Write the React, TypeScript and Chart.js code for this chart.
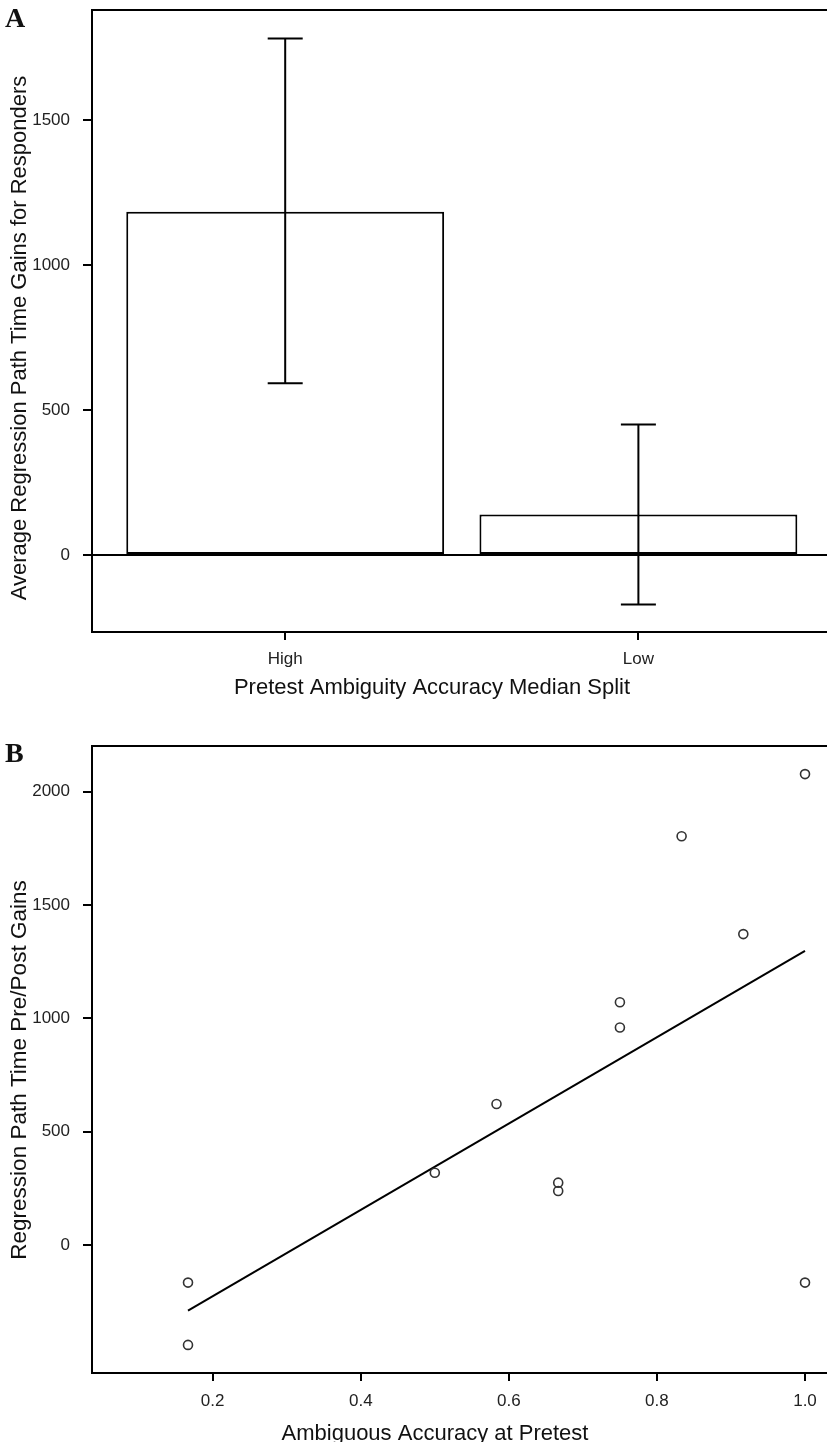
import React, { useEffect, useRef } from "react";
import { Chart, registerables } from "chart.js";

Chart.register(...registerables);

// ---------- Panel A data ----------
const categories = ["High", "Low"];
const meanGains = [1184, 140];
const errLower = [592, -170];
const errUpper = [1781, 450];
const yTicksA = [0, 500, 1000, 1500];

// ---------- Panel B data ----------
const accuracyX = [1 / 6, 1 / 6, 0.5, 7 / 12, 2 / 3, 2 / 3, 0.75, 0.75, 5 / 6, 11 / 12, 1, 1];
const gainsY = [-166, -441, 319, 622, 275, 238, 1071, 960, 1804, 1372, 2078, -166];
const fitX = [1 / 6, 1];
const fitY = [-290, 1298];
const xTicksB = [0.2, 0.4, 0.6, 0.8, 1.0];
const yTicksB = [0, 500, 1000, 1500, 2000];

const SANS = "'Liberation Sans', Arial, Helvetica, sans-serif";
const SERIF = "'Liberation Serif', 'Times New Roman', serif";
const TICK_FONT = { family: SANS, size: 17 };
const TEXT_COLOR = "#222";

type Label = { text: string; x: number; y: number; rotate?: boolean; font: string };

function makeTextPlugin(id: string, labels: Label[], topLine: boolean) {
  return {
    id,
    afterDraw(chart: any) {
      const { ctx, chartArea } = chart;
      ctx.save();
      if (topLine) {
        ctx.strokeStyle = "#000";
        ctx.lineWidth = 2;
        ctx.beginPath();
        ctx.moveTo(chartArea.left - 1, chartArea.top);
        ctx.lineTo(chartArea.right + 2, chartArea.top);
        ctx.stroke();
      }
      ctx.fillStyle = "#111";
      for (const l of labels) {
        ctx.save();
        ctx.font = l.font;
        ctx.textBaseline = "alphabetic";
        if (l.rotate) {
          ctx.translate(l.x, l.y);
          ctx.rotate(-Math.PI / 2);
          ctx.textAlign = "center";
          ctx.fillText(l.text, 0, 0);
        } else {
          ctx.textAlign = l.font.includes("bold") ? "left" : "center";
          ctx.fillText(l.text, l.x, l.y);
        }
        ctx.restore();
      }
      ctx.restore();
    },
  };
}

const errorBarPlugin = {
  id: "errorBars",
  afterDatasetsDraw(chart: any) {
    const { ctx, scales, chartArea } = chart;
    const xs = scales.x;
    const ys = scales.y;
    ctx.save();
    ctx.strokeStyle = "#000";
    ctx.lineWidth = 2;
    // zero reference line
    const y0 = ys.getPixelForValue(0);
    ctx.beginPath();
    ctx.moveTo(chartArea.left, y0);
    ctx.lineTo(chartArea.right + 2, y0);
    ctx.stroke();
    const cap = 17.5;
    categories.forEach((_, i) => {
      const x = xs.getPixelForValue(i + 1);
      const yl = ys.getPixelForValue(errLower[i]);
      const yh = ys.getPixelForValue(errUpper[i]);
      ctx.beginPath();
      ctx.moveTo(x, yl);
      ctx.lineTo(x, yh);
      ctx.moveTo(x - cap, yl);
      ctx.lineTo(x + cap, yl);
      ctx.moveTo(x - cap, yh);
      ctx.lineTo(x + cap, yh);
      ctx.stroke();
    });
    ctx.restore();
  },
};

function zeroPad(ax: any) {
  ax.paddingTop = 0;
  ax.paddingBottom = 0;
  ax.paddingLeft = 0;
  ax.paddingRight = 0;
}

function axisCommon(tickLength: number, padding: number) {
  return {
    offset: false,
    grid: {
      offset: false,
      drawOnChartArea: false,
      drawTicks: true,
      tickLength,
      color: "#000",
      lineWidth: 2,
    },
    border: { display: true, color: "#000", width: 2 },
    ticks: {
      font: TICK_FONT,
      color: TEXT_COLOR,
      padding,
      autoSkip: false,
      maxRotation: 0,
      callback: (v: any) => String(v),
    },
  };
}

function PanelA() {
  const ref = useRef<HTMLCanvasElement>(null);
  useEffect(() => {
    if (!ref.current) return;
    const xc = axisCommon(8, 9);
    const yc = axisCommon(9, 13);
    const chart = new Chart(ref.current, {
      type: "bar",
      data: {
        datasets: [
          {
            data: categories.map((c, i) => ({ x: i + 1, y: meanGains[i] })),
            backgroundColor: "#fff",
            borderColor: "#000",
            borderWidth: 2,
            borderSkipped: false,
            barPercentage: 0.9,
            categoryPercentage: 1,
          } as any,
        ],
      },
      options: {
        animation: false,
        responsive: false,
        maintainAspectRatio: false,
        layout: { autoPadding: false, padding: { top: 10, left: 0, right: 0, bottom: 0 } },
        plugins: { legend: { display: false }, tooltip: { enabled: false } },
        scales: {
          x: {
            type: "linear",
            min: 0.453,
            max: 2.534,
            ...xc,
            ticks: { ...xc.ticks, callback: (v: any) => categories[Math.round(v) - 1] ?? "" },
            afterBuildTicks: (ax: any) => {
              ax.ticks = categories.map((_, i) => ({ value: i + 1 }));
            },
            afterFit: (ax: any) => {
              ax.height = 78;
              zeroPad(ax);
            },
          } as any,
          y: {
            type: "linear",
            min: -265,
            max: 1879,
            ...yc,
            afterBuildTicks: (ax: any) => {
              ax.ticks = yTicksA.map((v) => ({ value: v }));
            },
            afterFit: (ax: any) => {
              ax.width = 92;
              zeroPad(ax);
            },
          } as any,
        },
      } as any,
      plugins: [
        errorBarPlugin,
        makeTextPlugin(
          "textA",
          [
            { text: "A", x: 5, y: 27, font: `bold 28px ${SERIF}` },
            { text: "Pretest Ambiguity Accuracy Median Split", x: 432, y: 694, font: `22px ${SANS}` },
            {
              text: "Average Regression Path Time Gains for Responders",
              x: 25.5,
              y: 338,
              rotate: true,
              font: `22px ${SANS}`,
            },
          ],
          true
        ),
      ],
    });
    return () => chart.destroy();
  }, []);
  return (
    <canvas
      ref={ref}
      width={827}
      height={710}
      style={{ position: "absolute", left: 0, top: 0, width: 827, height: 710 }}
    />
  );
}

function PanelB() {
  const ref = useRef<HTMLCanvasElement>(null);
  useEffect(() => {
    if (!ref.current) return;
    const xc = axisCommon(8, 10);
    const yc = axisCommon(9, 13);
    const chart = new Chart(ref.current, {
      type: "scatter",
      data: {
        datasets: [
          {
            type: "scatter",
            data: accuracyX.map((x, i) => ({ x, y: gainsY[i] })),
            pointRadius: 4.5,
            pointBorderWidth: 1.6,
            pointBorderColor: "#333",
            pointBackgroundColor: "rgba(0,0,0,0)",
            pointStyle: "circle",
          } as any,
          {
            type: "line",
            data: fitX.map((x, i) => ({ x, y: fitY[i] })),
            borderColor: "#000",
            borderWidth: 2,
            pointRadius: 0,
            fill: false,
            showLine: true,
          } as any,
        ],
      },
      options: {
        animation: false,
        responsive: false,
        maintainAspectRatio: false,
        layout: { autoPadding: false, padding: { top: 36, left: 0, right: 0, bottom: 0 } },
        plugins: { legend: { display: false }, tooltip: { enabled: false } },
        scales: {
          x: {
            type: "linear",
            min: 0.037,
            max: 1.0297,
            ...xc,
            ticks: { ...xc.ticks, callback: (v: any) => Number(v).toFixed(1) },
            afterBuildTicks: (ax: any) => {
              ax.ticks = xTicksB.map((v) => ({ value: v }));
            },
            afterFit: (ax: any) => {
              ax.height = 69;
              zeroPad(ax);
            },
          } as any,
          y: {
            type: "linear",
            min: -565,
            max: 2202,
            ...yc,
            afterBuildTicks: (ax: any) => {
              ax.ticks = yTicksB.map((v) => ({ value: v }));
            },
            afterFit: (ax: any) => {
              ax.width = 92;
              zeroPad(ax);
            },
          } as any,
        },
      } as any,
      plugins: [
        makeTextPlugin(
          "textB",
          [
            { text: "B", x: 5, y: 52, font: `bold 28px ${SERIF}` },
            { text: "Ambiguous Accuracy at Pretest", x: 435, y: 730, font: `22px ${SANS}` },
            {
              text: "Regression Path Time Pre/Post Gains",
              x: 25.5,
              y: 360,
              rotate: true,
              font: `22.5px ${SANS}`,
            },
          ],
          true
        ),
      ],
    });
    return () => chart.destroy();
  }, []);
  return (
    <canvas
      ref={ref}
      width={827}
      height={732}
      style={{ position: "absolute", left: 0, top: 710, width: 827, height: 732 }}
    />
  );
}

export default function App() {
  return (
    <div
      style={{
        position: "absolute",
        left: 0,
        top: 0,
        width: 827,
        height: 1442,
        background: "#fff",
        overflow: "hidden",
      }}
    >
      <PanelA />
      <PanelB />
    </div>
  );
}
